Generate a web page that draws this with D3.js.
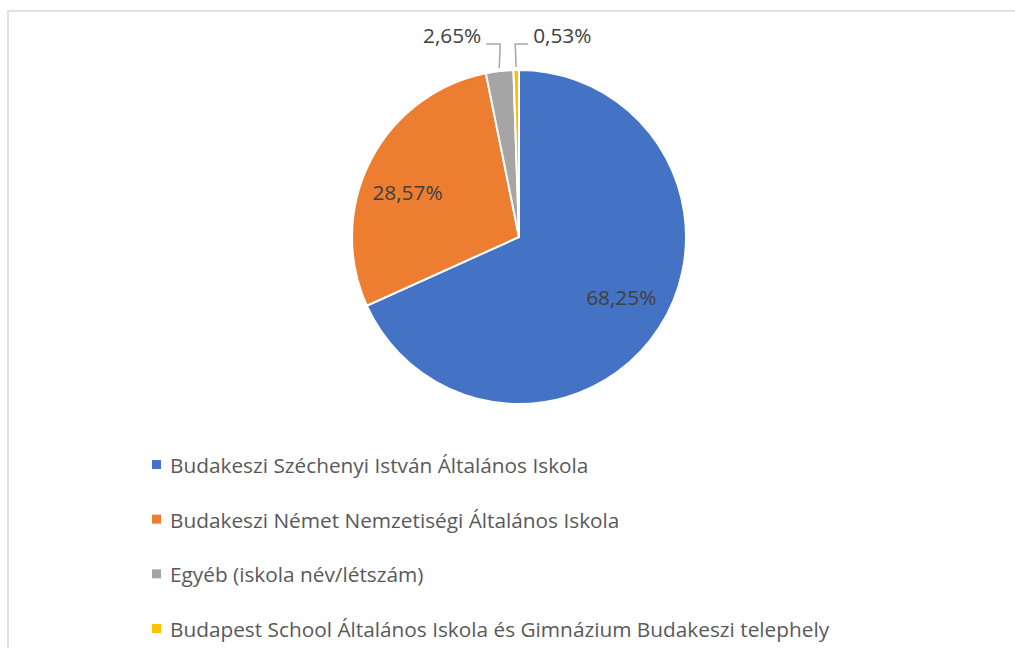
<!DOCTYPE html>
<html>
<head>
<meta charset="utf-8">
<script src="https://cdn.jsdelivr.net/npm/d3@7"></script>
<style>
  body { margin: 0; background: #fff; }
  svg text { font-family: "Open Sans", sans-serif; }
</style>
</head>
<body>
<div id="chart"></div>
<script>
// school names (legend order = slice order)
var schools = [
  "Budakeszi Széchenyi István Általános Iskola",
  "Budakeszi Német Nemzetiségi Általános Iskola",
  "Egyéb (iskola név/létszám)",
  "Budapest School Általános Iskola és Gimnázium Budakeszi telephely"
];
var shares = [68.25, 28.57, 2.65, 0.53];
var colors = ["#4472c4", "#ed7d31", "#a5a5a5", "#ffc000"];

var width = 1015, height = 648;
var cx = 519, cy = 237, radius = 167;

var svg = d3.select("#chart").append("svg")
    .attr("width", width)
    .attr("height", height);

// chart area border (runs off the picture to the right and bottom)
svg.append("rect")
    .attr("x", 8).attr("y", 11)
    .attr("width", 1020).attr("height", 650)
    .attr("fill", "none")
    .attr("stroke", "#d9d9d9")
    .attr("stroke-width", 1.5);

var pie = d3.pie().sort(null).value(function(d) { return d; });
var arcs = pie(shares);

var arc = d3.arc().innerRadius(0).outerRadius(radius);

var g = svg.append("g").attr("transform", "translate(" + cx + "," + cy + ")");

g.selectAll("path")
    .data(arcs)
    .enter()
    .append("path")
    .attr("d", arc)
    .attr("fill", function(d, i) { return colors[i]; })
    .attr("stroke", "#fff")
    .attr("stroke-width", 2);

function fmt(v) { return v.toFixed(2).replace(".", ",") + "%"; }

// labels inside the two big slices: where along the slice and how far out
var insideAt = [
  { frac: 0.49, r: 0.71 },
  { frac: 0.45, r: 0.72 }
];
arcs.slice(0, 2).forEach(function(d, i) {
  var a = d.startAngle + (d.endAngle - d.startAngle) * insideAt[i].frac;
  var rr = radius * insideAt[i].r;
  g.append("text")
      .attr("x", Math.sin(a) * rr).attr("y", -Math.cos(a) * rr)
      .attr("text-anchor", "middle")
      .attr("dominant-baseline", "central")
      .attr("fill", "#404040")
      .attr("font-size", 20.8)
      .text(fmt(d.data));
});

// outside labels with leader lines for the two thin slices
var labelY = -193;
var outside = [
  { d: arcs[2], side: -1, dx: -13 },
  { d: arcs[3], side: 1, dx: 12 }
];
outside.forEach(function(o) {
  var mid = (o.d.startAngle + o.d.endAngle) / 2;
  var sx = Math.sin(mid) * (radius + 3), sy = -Math.cos(mid) * (radius + 3);
  g.append("polyline")
      .attr("points", [[sx, sy], [sx - o.side * 1, labelY], [sx + o.dx, labelY]].map(function(p) { return p.join(","); }).join(" "))
      .attr("fill", "none")
      .attr("stroke", "#a6a6a6")
      .attr("stroke-width", 1.5);
  g.append("text")
      .attr("x", sx + o.dx + o.side * 5)
      .attr("y", labelY - 9)
      .attr("text-anchor", o.side < 0 ? "end" : "start")
      .attr("dominant-baseline", "central")
      .attr("fill", "#404040")
      .attr("font-size", 20.8)
      .text(fmt(o.d.data));
});

// legend, one row per school
var legendY = d3.scalePoint().domain(schools).range([465, 629]);
var legend = svg.selectAll(".legend")
    .data(schools)
    .enter()
    .append("g")
    .attr("class", "legend")
    .attr("transform", function(d) { return "translate(152," + legendY(d) + ")"; });

legend.append("rect")
    .attr("x", 0).attr("y", -5)
    .attr("width", 9).attr("height", 9)
    .attr("fill", function(d, i) { return colors[i]; });

legend.append("text")
    .attr("x", 18).attr("y", 0)
    .attr("dominant-baseline", "central")
    .attr("fill", "#595959")
    .attr("font-size", 20.8)
    .text(function(d) { return d; });
</script>
</body>
</html>
